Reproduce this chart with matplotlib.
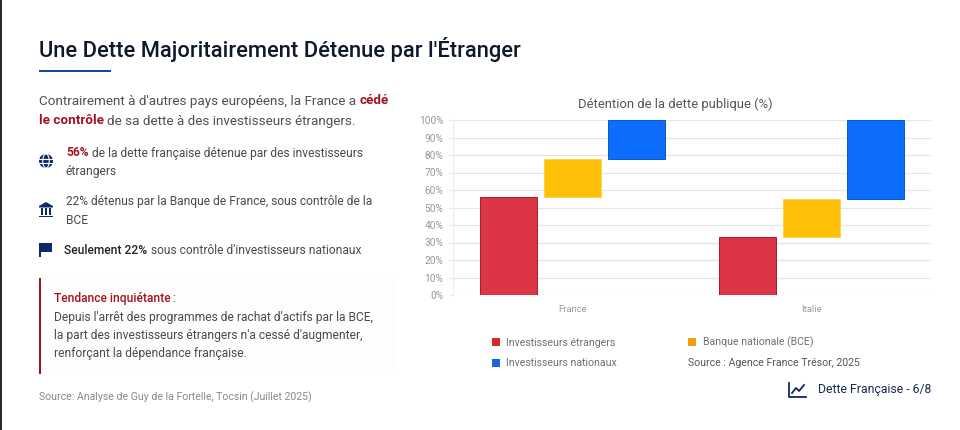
import matplotlib
matplotlib.use("Agg")
import matplotlib.pyplot as plt
from matplotlib.patches import Rectangle, Circle, Polygon, Ellipse
import numpy as np

plt.rcParams['font.family'] = ['Roboto', 'DejaVu Sans']

W, H = 960, 430

# data
countries = ['France', 'Italie']
series_names = ['Investisseurs étrangers', 'Banque nationale (BCE)', 'Investisseurs nationaux']
foreign = [56, 33]
central_bank = [22, 22]
national = [22, 45]
y_ticks = [0, 10, 20, 30, 40, 50, 60, 70, 80, 90, 100]

bar_colors = ['#dc3545', '#ffc107', '#0d6efd']
edge_colors = ['#a61c2c', '#ffd24d', '#0b58c9']
legend_colors = ['#d52b22', '#f59e0b', '#1a66d6']
navy = '#0b2a66'
dark_red = '#a3121f'

fig = plt.figure(figsize=(W / 100, H / 100), dpi=100, facecolor='white')

# page overlay in pixel coordinates, for everything that isn't the chart
page = fig.add_axes([0, 0, 1, 1])
page.set_xlim(0, W)
page.set_ylim(H, 0)
page.axis('off')


def txt(x, y, s, size=8.65, color='#4a4a4a', weight='normal', ha='left', **kw):
    return page.text(x, y, s, fontsize=size, color=color, fontweight=weight,
                     ha=ha, va='center', **kw)


# dark strip on the left edge of the screenshot
page.add_patch(Rectangle((0, 0), 2.4, H, fc='#2a2a2a', ec='none'))

# title
txt(39, 50, "Une Dette Majoritairement Détenue par l'Étranger", size=15.75, color='#10182b', weight='medium')
page.add_patch(Rectangle((39, 70), 71.5, 2.2, color='#0b4fa8', lw=0))

# intro paragraph
txt(39, 101, "Contrairement à d'autres pays européens, la France a", size=9.7, color='#505050')
txt(360, 101, "cédé", size=9.7, color=dark_red, weight='bold')
txt(39, 121, "le contrôle", size=9.7, color=dark_red, weight='bold')
txt(107, 121, "de sa dette à des investisseurs étrangers.", size=9.7, color='#505050')

# bullets
txt(66, 153, "56%", color=dark_red, weight='bold')
txt(92, 153, "de la dette française détenue par des investisseurs")
txt(66, 172, "étrangers")
txt(66, 201.5, "22% détenus par la Banque de France, sous contrôle de la")
txt(66, 220, "BCE")
txt(64, 250, "Seulement 22%", color='#222222', weight='medium')
txt(151, 250, "sous contrôle d'investisseurs nationaux")

# globe icon
page.add_patch(Circle((46, 161), 7, fc=navy, ec='none'))
page.add_patch(Ellipse((46, 161), 6.5, 14, fc='none', ec='white', lw=0.8))
for yy in (158.6, 163.4):
    page.plot([39, 53], [yy, yy], color='white', lw=0.8)

# bank icon
page.add_patch(Polygon([[39, 206], [46, 202], [53, 206], [53, 207.5], [39, 207.5]], fc=navy, ec='none'))
for xx in (41, 44.9, 48.8):
    page.add_patch(Rectangle((xx, 208.3), 2.2, 6.7, fc=navy, ec='none'))
page.add_patch(Rectangle((39, 215.5), 14, 1.8, fc=navy, ec='none'))

# flag icon
page.add_patch(Rectangle((39, 243), 1.5, 13.5, fc=navy, ec='none'))
page.add_patch(Rectangle((40, 243), 12, 9, fc=navy, ec='none'))

# callout
page.add_patch(Rectangle((39, 278), 358, 96, fc='#fdfdfd', ec='none'))
page.add_patch(Rectangle((38.5, 278), 2.8, 96, fc=dark_red, ec='none'))
txt(54, 298.5, "Tendance inquiétante", color=dark_red, weight='medium')
txt(172.5, 298.5, ":")
txt(54, 317, "Depuis l'arrêt des programmes de rachat d'actifs par la BCE,")
txt(54, 336, "la part des investisseurs étrangers n'a cessé d'augmenter,")
txt(54, 354, "renforçant la dépendance française.")

# source
txt(39, 397, "Source: Analyse de Guy de la Fortelle, Tocsin (Juillet 2025)", size=7.6, color='#8a8a8a')

# chart
ax = fig.add_axes([453 / W, 1 - 295 / H, (931 - 453) / W, (295 - 120) / H])
x = np.arange(len(countries))
step = 0.2657
width = 0.2385
bottom = np.zeros(len(countries))
for i, vals in enumerate([foreign, central_bank, national]):
    ax.bar(x + (i - 1) * step, vals, width, bottom=bottom, color=bar_colors[i],
           edgecolor=edge_colors[i], linewidth=0.7, zorder=3)
    bottom = bottom + np.array(vals)

ax.set_xlim(-0.5, 1.5)
ax.set_ylim(0, 100)
ax.set_xticks(x)
ax.set_xticklabels(countries, fontsize=6.8, color='#999999')
ax.set_yticks(y_ticks)
ax.set_yticklabels([f'{v}%' for v in y_ticks], fontsize=7.3, color='#999999')
ax.tick_params(axis='x', length=0, pad=7)
ax.tick_params(axis='y', length=3, width=0.8, color='#e6e6e6', pad=4)
ax.grid(axis='y', color='#e6e6e6', lw=0.9, zorder=0)
ax.set_axisbelow(True)
for name, spine in ax.spines.items():
    spine.set_visible(name == 'left')
    spine.set_color('#eeeeee')
ax.set_facecolor('none')

txt(675.5, 104, "Détention de la dette publique (%)", size=9.35, color='#555555', ha='center')

# legend, laid out by hand as in the page
page.add_patch(Rectangle((492, 338.3), 8, 8, fc=legend_colors[0], ec='none'))
txt(506, 342.5, series_names[0], size=7.6, color='#707070')
page.add_patch(Rectangle((687.5, 338.3), 8, 8, fc=legend_colors[1], ec='none'))
txt(703, 342.5, series_names[1], size=7.6, color='#707070')
page.add_patch(Rectangle((492, 359.3), 8, 8, fc=legend_colors[2], ec='none'))
txt(506, 363.5, series_names[2], size=7.6, color='#707070')
txt(688, 363.5, "Source : Agence France Trésor, 2025", size=7.6, color='#555555')

# footer
page.plot([789, 789, 805.5], [382.5, 397, 397], color=navy, lw=1.3)
page.plot([792, 796, 799, 804], [393, 388, 391, 385], color=navy, lw=1.3)
txt(818, 389.8, "Dette Française - 6/8", size=8.8, color='#1c2a52')

fig.savefig('out.png', dpi=100)
